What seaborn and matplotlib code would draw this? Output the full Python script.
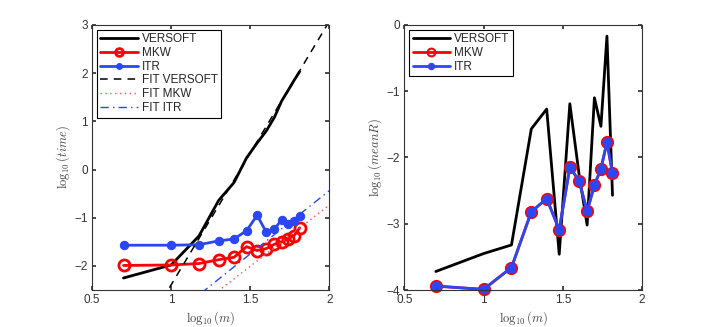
import numpy as np
import pandas as pd
import matplotlib
matplotlib.use("Agg")
import matplotlib.pyplot as plt
import seaborn as sns

# log10(m) for m = 5, 10, ..., 65
log_m = [0.699, 1.0, 1.176, 1.301, 1.398, 1.477, 1.544, 1.602, 1.653, 1.699, 1.740, 1.778, 1.813]

# left panel: log10(time)
time_versoft = [-2.25, -1.98, -1.38, -0.64, -0.27, 0.24, 0.55, 0.80, 1.08, 1.42, 1.64, 1.85, 2.03]
time_mkw = [-1.99, -1.98, -1.95, -1.87, -1.82, -1.60, -1.68, -1.64, -1.55, -1.50, -1.44, -1.37, -1.21]
time_itr = [-1.57, -1.57, -1.56, -1.48, -1.44, -1.27, -0.95, -1.30, -1.24, -1.04, -1.13, -1.07, -0.96]

# fitted lines (end points)
fit_x_versoft = [0.90, 2.00]
fit_y_versoft = [-2.94, 3.07]
fit_x_mkw = [1.20, 2.00]
fit_y_mkw = [-2.77, -0.74]
fit_x_itr = [1.10, 2.00]
fit_y_itr = [-2.80, -0.44]

# right panel: log10(meanR)
meanr_versoft = [-3.72, -3.45, -3.32, -1.57, -1.27, -3.46, -1.19, -2.25, -3.02, -1.10, -1.53, -0.17, -2.57]
meanr_mkw = [-3.94, -3.99, -3.66, -2.82, -2.62, -3.09, -2.15, -2.35, -2.81, -2.42, -2.17, -1.77, -2.24]
meanr_itr = [-3.94, -3.99, -3.66, -2.82, -2.62, -3.09, -2.15, -2.35, -2.81, -2.42, -2.17, -1.77, -2.24]

red = "#ff0000"
blue = "#2a46f5"

sns.set_theme(style="white")
plt.rcParams["font.family"] = ["Liberation Sans", "DejaVu Sans"]
plt.rcParams["mathtext.fontset"] = "cm"
plt.rcParams["axes.edgecolor"] = "#333333"
plt.rcParams["axes.linewidth"] = 0.8
plt.rcParams["xtick.direction"] = "in"
plt.rcParams["ytick.direction"] = "in"
plt.rcParams["xtick.top"] = True
plt.rcParams["ytick.right"] = True
plt.rcParams["xtick.bottom"] = True
plt.rcParams["ytick.left"] = True
plt.rcParams["xtick.major.size"] = 3
plt.rcParams["ytick.major.size"] = 3
plt.rcParams["xtick.color"] = "#333333"
plt.rcParams["ytick.color"] = "#333333"

fig = plt.figure(figsize=(7.08, 3.27), dpi=100)
ax1 = fig.add_axes([0.130, 0.113, 0.335, 0.811])
ax2 = fig.add_axes([0.571, 0.113, 0.336, 0.811])

# left
sns.lineplot(x=log_m, y=time_versoft, ax=ax1, color="black", lw=2, sort=False, label="VERSOFT")
sns.lineplot(x=log_m, y=time_mkw, ax=ax1, color=red, lw=2, marker="o", markersize=8,
             markerfacecolor="none", markeredgecolor=red, markeredgewidth=2, sort=False,
             clip_on=False, label="MKW")
sns.lineplot(x=log_m, y=time_itr, ax=ax1, color=blue, lw=2, marker="o", markersize=6,
             markeredgecolor=blue, sort=False, clip_on=False, label="ITR")
sns.lineplot(x=fit_x_versoft, y=fit_y_versoft, ax=ax1, color="black", lw=1.1, linestyle=(0, (5, 4)),
             sort=False, label="FIT VERSOFT")
sns.lineplot(x=fit_x_mkw, y=fit_y_mkw, ax=ax1, color="#ff5050", lw=1.0, linestyle=(0, (1, 2.5)),
             sort=False, label="FIT MKW")
sns.lineplot(x=fit_x_itr, y=fit_y_itr, ax=ax1, color=blue, lw=1.0, linestyle=(0, (6, 3, 1, 3)),
             sort=False, label="FIT ITR")
ax1.set_xlim(0.5, 2)
ax1.set_ylim(-2.5, 3)
ax1.set_xticks([0.5, 1, 1.5, 2])
ax1.set_xticklabels(["0.5", "1", "1.5", "2"])
ax1.set_yticks([-2, -1, 0, 1, 2, 3])
ax1.set_xlabel(r"$\log_{10}(m)$", fontsize=9, color="#444444", labelpad=2)
ax1.set_ylabel(r"$\log_{10}(time)$", fontsize=9, color="#444444", labelpad=2)

# right
sns.lineplot(x=log_m, y=meanr_versoft, ax=ax2, color="black", lw=2, sort=False, label="VERSOFT")
sns.lineplot(x=log_m, y=meanr_mkw, ax=ax2, color=red, lw=2, marker="o", markersize=8,
             markerfacecolor="none", markeredgecolor=red, markeredgewidth=1.5, sort=False,
             clip_on=False, label="MKW")
sns.lineplot(x=log_m, y=meanr_itr, ax=ax2, color=blue, lw=2, marker="o", markersize=6.5,
             markeredgecolor=blue, sort=False, clip_on=False, label="ITR")
ax2.set_xlim(0.5, 2)
ax2.set_ylim(-4, 0)
ax2.set_xticks([0.5, 1, 1.5, 2])
ax2.set_xticklabels(["0.5", "1", "1.5", "2"])
ax2.set_yticks([-4, -3, -2, -1, 0])
ax2.set_xlabel(r"$\log_{10}(m)$", fontsize=9, color="#444444", labelpad=2)
ax2.set_ylabel(r"$\log_{10}(meanR)$", fontsize=9, color="#444444", labelpad=2)

for ax in (ax1, ax2):
    ax.tick_params(labelsize=8.5, pad=3)
    for sp in ax.spines.values():
        sp.set_visible(True)
        sp.set_color("#333333")
    leg = ax.legend(loc="upper left", fontsize=8.5, frameon=True, fancybox=False,
                    borderaxespad=0.4, handlelength=3.2, handletextpad=0.3,
                    labelspacing=0.15, borderpad=0.3, markerscale=0.7)
    leg.get_frame().set_edgecolor("black")
    leg.get_frame().set_linewidth(0.8)
    leg.get_frame().set_alpha(1)

fig.savefig("out.png", dpi=100)
